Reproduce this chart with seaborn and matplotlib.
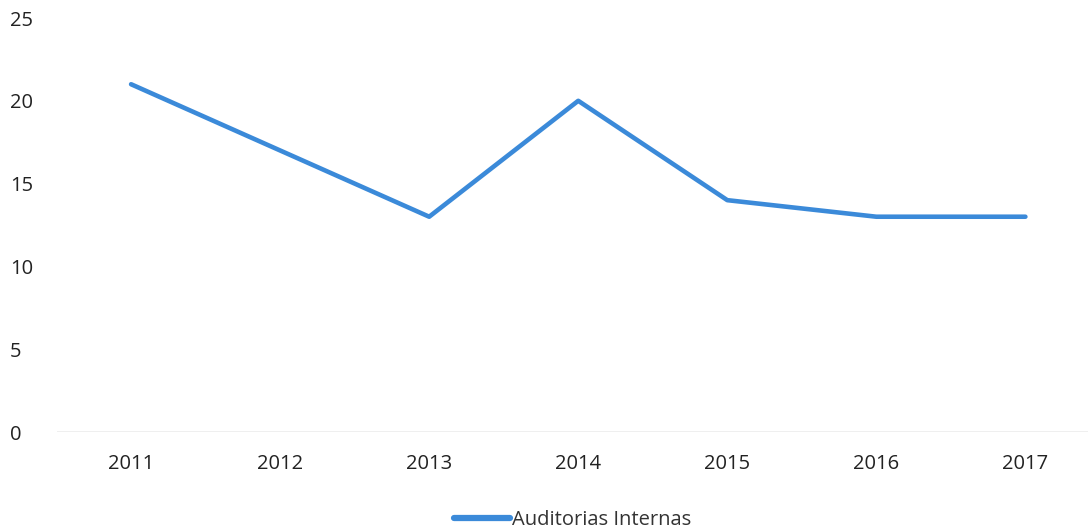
import matplotlib
matplotlib.use("Agg")
import matplotlib.pyplot as plt
import seaborn as sns
import pandas as pd

# Data
years = ["2011", "2012", "2013", "2014", "2015", "2016", "2017"]
auditorias = [21, 17, 13, 20, 14, 13, 13]
series_name = "Auditorias Internas"
y_ticks = [0, 5, 10, 15, 20, 25]

sns.set_theme(style="white")
plt.rcParams["font.family"] = ["Open Sans", "DejaVu Sans"]

df = pd.DataFrame({"Ano": years, "Valor": auditorias, "Serie": series_name})

fig = plt.figure(figsize=(10.88, 5.31), dpi=100)
ax = fig.add_axes([57 / 1088, 99 / 531, (1088 - 57) / 1088, 414 / 531])

line_color = "#3b8ad9"
sns.lineplot(data=df, x="Ano", y="Valor", hue="Serie", palette=[line_color],
             linewidth=3.3, sort=False, ax=ax)

ax.set_xlim(-0.497, 6.42)
ax.set_ylim(0, 25)
ax.set_yticks(y_ticks)
ax.set_xlabel("")
ax.set_ylabel("")
for s in ax.spines.values():
    s.set_visible(False)
ax.axhline(0, color="#ececec", linewidth=1.2, zorder=0)

ax.tick_params(axis="both", length=0, labelsize=14.5, labelcolor="#222222")
ax.tick_params(axis="x", pad=16)
ax.tick_params(axis="y", pad=34)
for lbl in ax.get_yticklabels():
    lbl.set_horizontalalignment("left")

leg = ax.legend(loc="center", bbox_to_anchor=(0.5, -0.212),
                frameon=False, fontsize=14.5, handlelength=2.8,
                handletextpad=0.1, labelcolor="#333333")
for h in leg.get_lines():
    h.set_linewidth(4.5)
    h.set_solid_capstyle("round")

fig.savefig("out.png", dpi=100)
